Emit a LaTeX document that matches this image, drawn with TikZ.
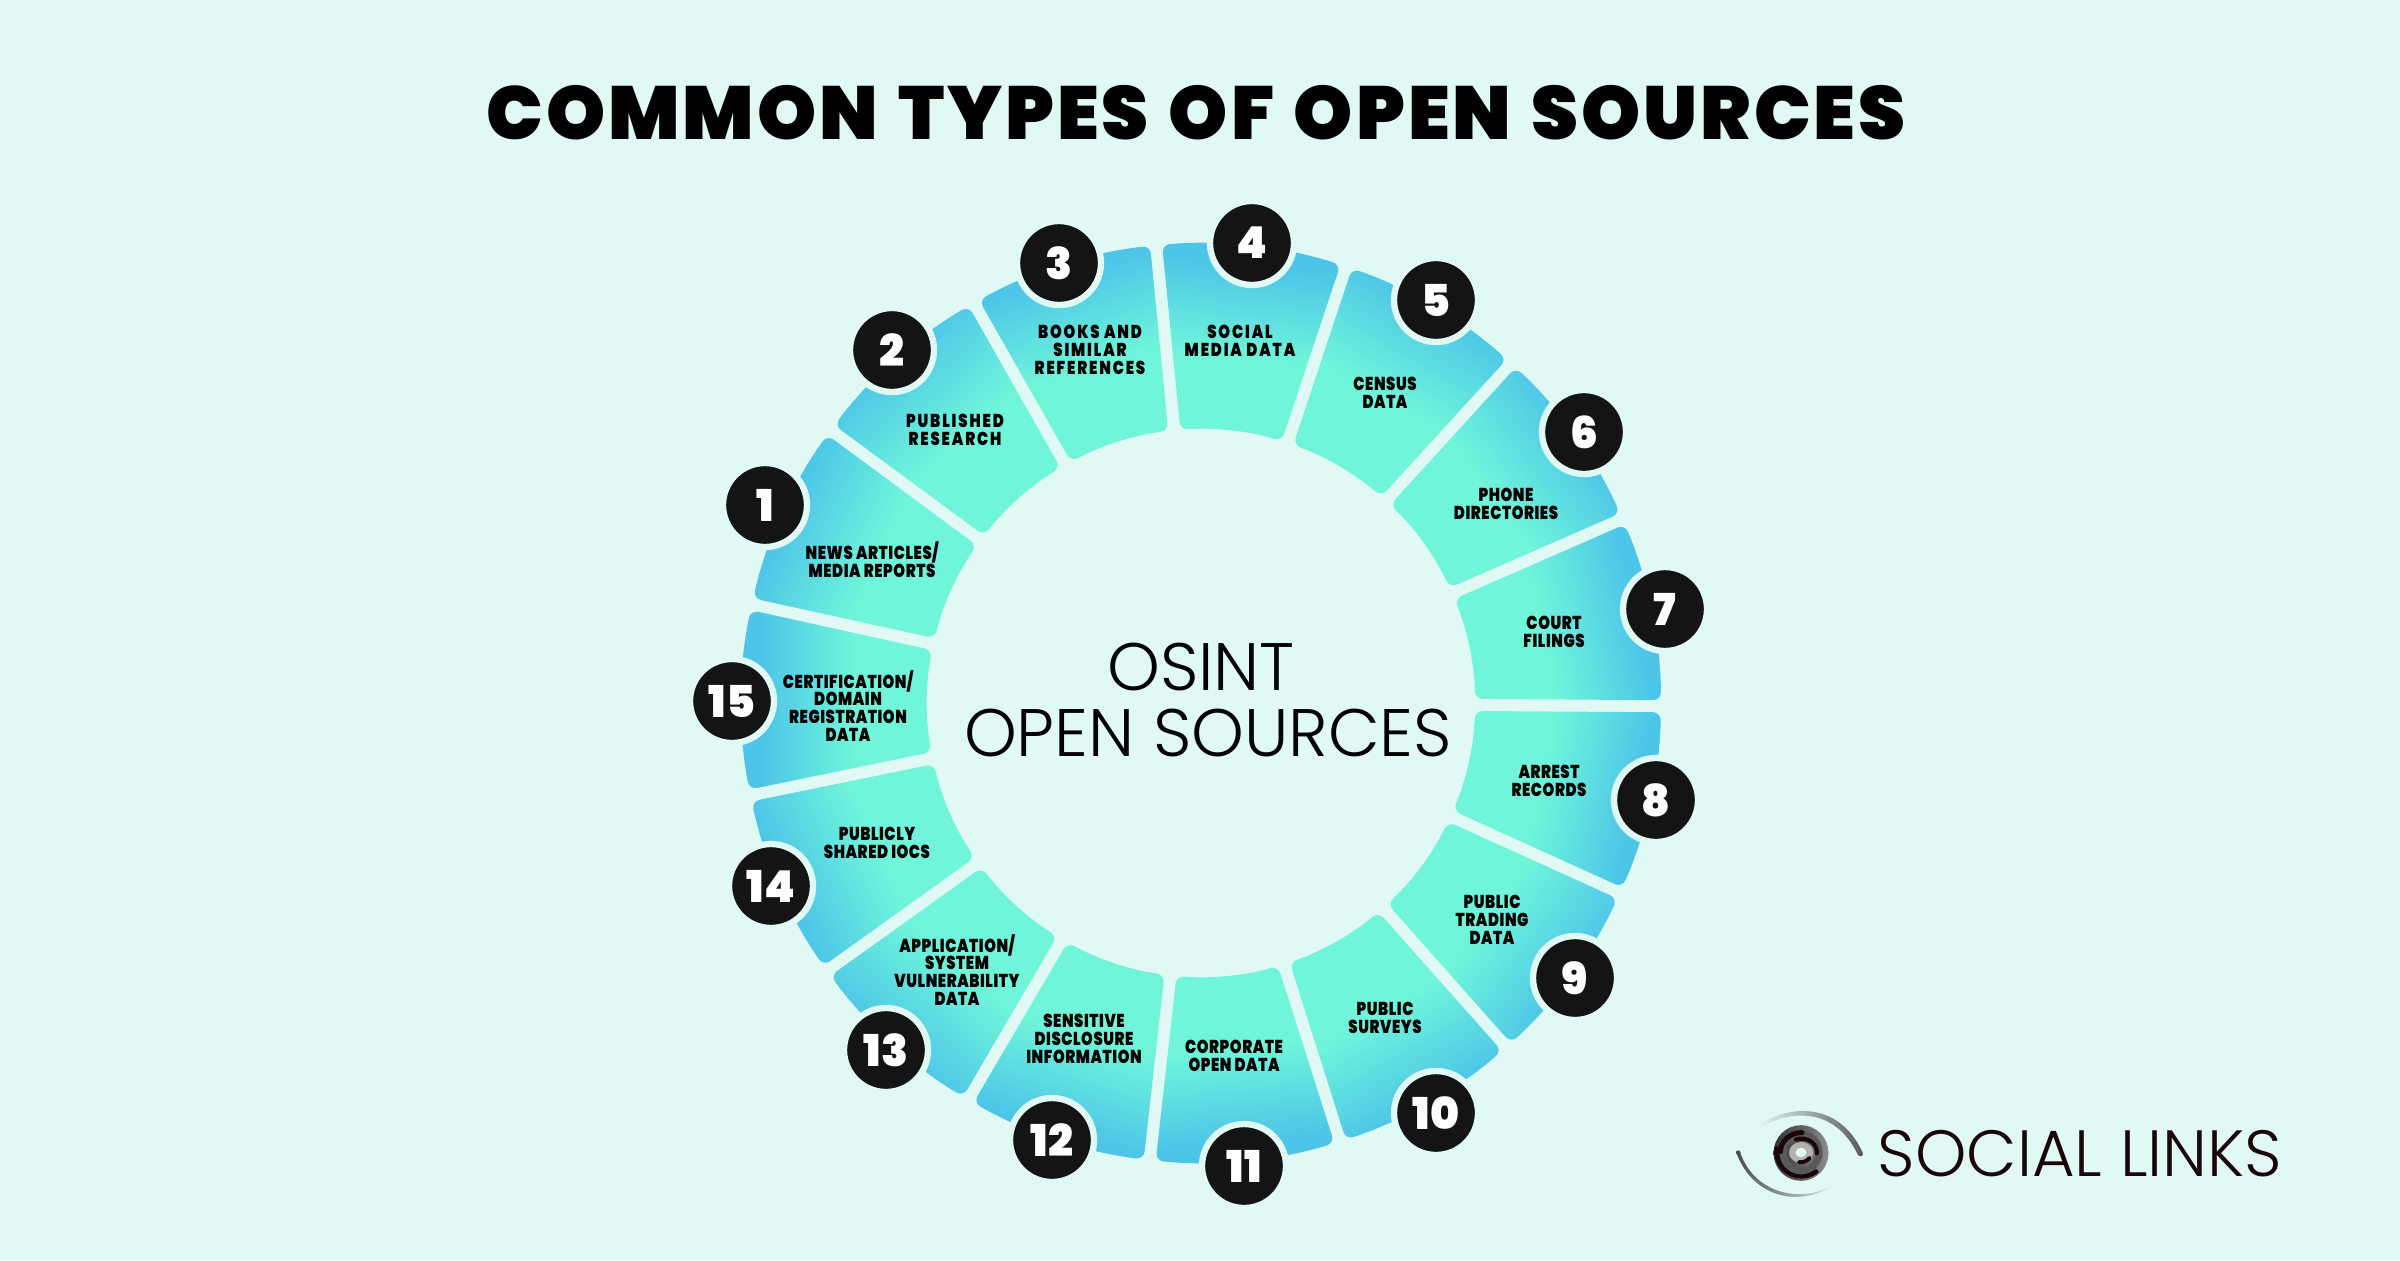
\documentclass[tikz,border=0pt]{standalone}
\usepackage{fontspec}
\usetikzlibrary{calc, positioning}
\newfontfamily\heavyfont[LetterSpace=4, WordSpace=1.25]{Poppins Black}
\newfontfamily\numfont{Poppins Black}
\newfontfamily\lightfont{Poppins Light}
\newfontfamily\labelfont[FakeStretch=0.8, LetterSpace=3]{Poppins Black}
\newfontfamily\widelabelfont[FakeStretch=0.8, LetterSpace=10]{Poppins Black}
\definecolor{bgmint}{HTML}{E0F9F5}
\definecolor{segblue}{HTML}{4DC5E8}
\definecolor{segmint}{HTML}{70F5DA}
\definecolor{badgeblack}{HTML}{141414}
\definecolor{logoink}{HTML}{1A0508}
\pgfdeclareverticalshading{segshade}{100bp}{color(0bp)=(segmint); color(45bp)=(segmint); color(69bp)=(segblue); color(100bp)=(segblue)}
\tikzset{
  ringseg/.style={shading=segshade, rounded corners=0.08cm},
  badge/.style={circle, fill=badgeblack, draw=bgmint, line width=1.8pt, minimum size=0.84cm, inner sep=0pt, text=white, font=\numfont\fontsize{12.5}{14}\selectfont},
  seglabel/.style={align=center, inner sep=0pt, font=\labelfont\fontsize{5.3}{5.1}\selectfont},
  widelabel/.style={seglabel, font=\widelabelfont\fontsize{5.3}{5.1}\selectfont},
}
\begin{document}
\begin{tikzpicture}
\useasboundingbox (0,0) rectangle (24,12.6);
\fill[bgmint] (0,0) rectangle (24,12.6);

% Title and centre text
\node[inner sep=0pt] (title) at (11.96, 11.47) {\heavyfont\fontsize{21.4}{23}\selectfont COMMON TYPES OF OPEN SOURCES};
\node[inner sep=0pt, align=center, font=\lightfont\fontsize{19.1}{18.6}\selectfont] (osint) at (12.08, 5.60) {OSINT\hspace*{0.14cm}\\OPEN SOURCES};

\begin{scope}[shift={(12.01, 5.57)}, rotate=-0.4]
% Ring segments, each one turned to its own angle
\shade[ringseg, shading angle=66] (144.75:4.6) arc (144.75:167.25:4.6) -- (166.73:2.74) arc (166.73:145.27:2.74) -- cycle;
\shade[ringseg, shading angle=42] (120.75:4.6) arc (120.75:143.25:4.6) -- (142.73:2.74) arc (142.73:121.27:2.74) -- cycle;
\shade[ringseg, shading angle=18] (96.75:4.6) arc (96.75:119.25:4.6) -- (118.73:2.74) arc (118.73:97.27:2.74) -- cycle;
\shade[ringseg, shading angle=-6] (72.75:4.6) arc (72.75:95.25:4.6) -- (94.73:2.74) arc (94.73:73.27:2.74) -- cycle;
\shade[ringseg, shading angle=-30] (48.75:4.6) arc (48.75:71.25:4.6) -- (70.73:2.74) arc (70.73:49.27:2.74) -- cycle;
\shade[ringseg, shading angle=-54] (24.75:4.6) arc (24.75:47.25:4.6) -- (46.73:2.74) arc (46.73:25.27:2.74) -- cycle;
\shade[ringseg, shading angle=-78] (0.75:4.6) arc (0.75:23.25:4.6) -- (22.73:2.74) arc (22.73:1.27:2.74) -- cycle;
\shade[ringseg, shading angle=-102] (-23.25:4.6) arc (-23.25:-0.75:4.6) -- (-1.27:2.74) arc (-1.27:-22.73:2.74) -- cycle;
\shade[ringseg, shading angle=-126] (-47.25:4.6) arc (-47.25:-24.75:4.6) -- (-25.27:2.74) arc (-25.27:-46.73:2.74) -- cycle;
\shade[ringseg, shading angle=-150] (-71.25:4.6) arc (-71.25:-48.75:4.6) -- (-49.27:2.74) arc (-49.27:-70.73:2.74) -- cycle;
\shade[ringseg, shading angle=-174] (-95.25:4.6) arc (-95.25:-72.75:4.6) -- (-73.27:2.74) arc (-73.27:-94.73:2.74) -- cycle;
\shade[ringseg, shading angle=162] (-119.25:4.6) arc (-119.25:-96.75:4.6) -- (-97.27:2.74) arc (-97.27:-118.73:2.74) -- cycle;
\shade[ringseg, shading angle=138] (-143.25:4.6) arc (-143.25:-120.75:4.6) -- (-121.27:2.74) arc (-121.27:-142.73:2.74) -- cycle;
\shade[ringseg, shading angle=114] (-167.25:4.6) arc (-167.25:-144.75:4.6) -- (-145.27:2.74) arc (-145.27:-166.73:2.74) -- cycle;
\shade[ringseg, shading angle=90] (-191.25:4.6) arc (-191.25:-168.75:4.6) -- (-169.27:2.74) arc (-169.27:-190.73:2.74) -- cycle;
\end{scope}

% Number badges on the outer rim
\node[badge] (badge1) at (7.65, 7.55) {1};
\node[badge] (badge2) at (8.92, 9.10) {2};
\node[badge] (badge3) at (10.59, 9.97) {3};
\node[badge] (badge4) at (12.52, 10.17) {4};
\node[badge] (badge5) at (14.36, 9.60) {5};
\node[badge] (badge6) at (15.84, 8.28) {6};
\node[badge] (badge7) at (16.65, 6.51) {7};
\node[badge] (badge8) at (16.56, 4.60) {8};
\node[badge] (badge9) at (15.75, 2.82) {9};
\node[badge] (badge10) at (14.36, 1.47) {10};
\node[badge] (badge11) at (12.44, 0.94) {11};
\node[badge] (badge12) at (10.52, 1.20) {12};
\node[badge] (badge13) at (8.86, 2.10) {13};
\node[badge] (badge14) at (7.71, 3.74) {14};
\node[badge] (badge15) at (7.32, 5.59) {15};

% Segment labels
\node[seglabel] (label1) at (8.72, 7.00) {NEWS ARTICLES/\\MEDIA REPORTS};
\node[widelabel] (label2) at (9.55, 8.30) {PUBLISHED\\RESEARCH};
\node[widelabel] (label3) at (10.90, 9.10) {BOOKS AND\\SIMILAR\\REFERENCES};
\node[widelabel] (label4) at (12.40, 9.19) {SOCIAL\\MEDIA DATA};
\node[seglabel] (label5) at (13.85, 8.67) {CENSUS\\DATA};
\node[seglabel] (label6) at (15.06, 7.56) {PHONE\\DIRECTORIES};
\node[seglabel] (label7) at (15.54, 6.28) {COURT\\FILINGS};
\node[seglabel] (label8) at (15.49, 4.79) {ARREST\\RECORDS};
\node[seglabel] (label9) at (14.92, 3.40) {PUBLIC\\TRADING\\DATA};
\node[seglabel] (label10) at (13.85, 2.42) {PUBLIC\\SURVEYS};
\node[seglabel] (label11) at (12.34, 2.04) {CORPORATE\\OPEN DATA};
\node[seglabel] (label12) at (10.84, 2.21) {SENSITIVE\\DISCLOSURE\\INFORMATION};
\node[seglabel] (label13) at (9.57, 2.90) {APPLICATION/\\SYSTEM\\VULNERABILITY\\DATA};
\node[seglabel] (label14) at (8.77, 4.17) {PUBLICLY\\SHARED IOCS};
\node[seglabel] (label15) at (8.48, 5.54) {CERTIFICATION/\\DOMAIN\\REGISTRATION\\DATA};

% Logo
\node[inner sep=0pt, text=logoink, font=\lightfont\fontsize{18.6}{20}\selectfont] (logotext) at (20.80, 1.06) {SOCIAL LINKS};
\begin{scope}[xshift=0.03cm, yshift=0.24cm, yscale=0.87]
\shade[left color=bgmint, right color=black!65] (17.55,1.27) .. controls (17.85,1.51) and (18.36,1.56) .. (18.60,0.95) -- (18.55,0.93) .. controls (18.32,1.49) and (17.87,1.45) .. (17.58,1.25) -- cycle;
\fill[black!65] (18.575,0.94) circle (0.024);
\shade[left color=black!70, right color=bgmint] (17.33,0.97) .. controls (17.50,0.40) and (18.05,0.30) .. (18.38,0.66) -- (18.36,0.63) .. controls (18.05,0.36) and (17.53,0.45) .. (17.375,0.95) -- cycle;
\fill[black!70] (17.352,0.96) circle (0.024);
\shade[left color=black!80, right color=black!45] (17.98,0.954) ellipse (0.275 and 0.32);
\draw[logoink, line width=1.4pt, line cap=round] (18.13,0.74) arc (-55:-185:0.25 and 0.29);
\draw[black!65, line width=2pt] (17.98,0.96) ellipse (0.18 and 0.21);
\draw[logoink, line width=1.4pt, line cap=round] (17.99,1.19) arc (90:180:0.215 and 0.22);
\draw[logoink, line width=1.2pt, line cap=round] (17.93,1.11) arc (110:-5:0.155);
\fill[black!30] (17.98,0.96) circle (0.12);
\fill[bgmint] (17.98,0.96) circle (0.055);
\draw[logoink, line width=1.1pt, line cap=round] (17.96,0.85) arc (-100:-30:0.1);
\end{scope}
\end{tikzpicture}
\end{document}
